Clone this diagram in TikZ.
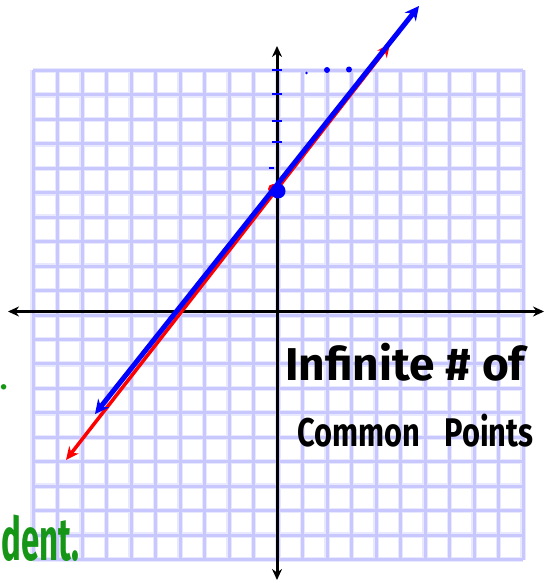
\documentclass[tikz,border=0pt]{standalone}
\usepackage{fontspec}
\usetikzlibrary{arrows.meta}
\newfontfamily\hand{Fira Sans}
\definecolor{gridc}{RGB}{200,200,255}
\definecolor{gridh}{RGB}{232,232,255}
\definecolor{greent}{RGB}{22,150,22}
\definecolor{blueline}{RGB}{0,0,255}
\definecolor{redline}{RGB}{255,0,0}
\tikzset{
  gridhalo/.style={draw=gridh, line width=5.5pt},
  gridline/.style={draw=gridc, line width=3pt},
  axisline/.style={draw=black, line width=3pt, {Stealth[length=11pt,width=10pt]}-{Stealth[length=11pt,width=10pt]}},
  redarrow/.style={draw=redline, line width=3.5pt, {Stealth[length=13pt,width=12pt]}-{Stealth[length=13pt,width=12pt]}},
  bluearrow/.style={draw=blueline, line width=5pt, {Stealth[length=14pt,width=14pt]}-{Stealth[length=14pt,width=14pt]}},
  bluetick/.style={draw=blueline, line width=2.5pt},
  handtext/.style={inner sep=0pt, text=black},
  greentext/.style={inner sep=0pt, text=greent}
}
\begin{document}
\begin{tikzpicture}[x=1pt,y=-1pt]
\useasboundingbox (0,0) rectangle (544,583);
\clip (0,0) rectangle (544,583);
\fill[white] (0,0) rectangle (544,583);
% grid
\foreach \k in {0,...,20}{
  \draw[gridhalo] ({33+24.5*\k},70.5) -- ({33+24.5*\k},560.4);
  \draw[gridhalo] (33,{70.5+24.45*\k}) -- (523,{70.5+24.45*\k});
}
\foreach \k in {0,...,20}{
  \draw[gridline] ({33+24.5*\k},70.5) -- ({33+24.5*\k},560.4);
  \draw[gridline] (33,{70.5+24.45*\k}) -- (523,{70.5+24.45*\k});
}
% axes
\coordinate (xl) at (8,311.5);
\coordinate (xr) at (544,311.5);
\coordinate (yt) at (277,46);
\coordinate (yb) at (277,580);
\draw[axisline] (xl) -- (xr);
\draw[axisline] (yb) -- (yt);
% blue tick marks on y-axis
\foreach \yy in {70,94,121,142}{
  \draw[bluetick] (272,\yy) -- (282,\yy);
}
\draw[bluetick] (269,168) -- (274,168);
% blue rise/run dots
\fill[blueline] (306.5,73) circle (1.3);
\fill[blueline] (327,70) circle (3);
\fill[blueline] (349,69.5) circle (3);
% red line
\coordinate (rl) at (66,460);
\coordinate (ru) at (390,44);
\draw[redarrow] (rl) -- (ru);
\fill[redline] (273,189) circle (5);
% blue line
\coordinate (bl) at (95,414);
\coordinate (bu) at (419,6);
\draw[bluearrow] (bl) -- (bu);
\fill[blueline] (278,191) circle (7.5);
% texts
\node[handtext, anchor=base west] (t1) at (285,380) {\hand\bfseries\fontsize{46}{46}\selectfont Infinite \# of};
\node[handtext, anchor=base west] (t2) at (297,446) {\scalebox{0.77}[1]{\hand\bfseries\fontsize{40}{40}\selectfont Common\hspace{32pt}Points}};
\node[greentext, anchor=base west] (g1) at (1,560) {\scalebox{0.55}[1]{\hand\bfseries\fontsize{60}{60}\selectfont dent.}};
\node[greentext, anchor=base west] (g2) at (0,389) {\hand\bfseries\fontsize{30}{30}\selectfont .};
\end{tikzpicture}
\end{document}
